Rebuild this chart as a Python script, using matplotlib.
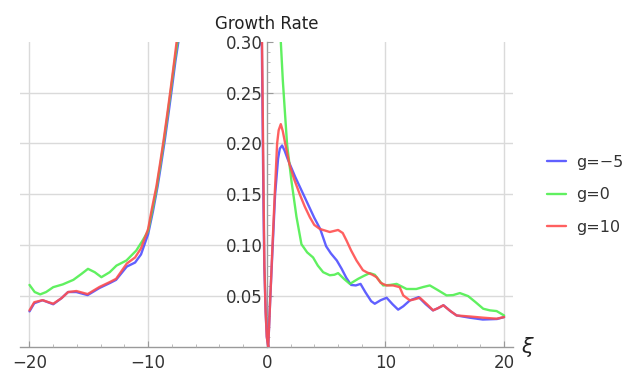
"""
Growth rate vs xi for three values of g (Mathematica-style axes through the origin).
"""

import matplotlib
matplotlib.use("Agg")
import matplotlib.pyplot as plt
from matplotlib.ticker import FormatStrFormatter, MultipleLocator

# ---------------------------------------------------------------------------
# Data
# ---------------------------------------------------------------------------

# left branch, xi < 0
xi_left_blue = [-20.0, -19.6, -18.9, -18.0, -17.3, -16.75, -16.05, -15.1, -14.1, -13.2,
                -12.7, -11.8, -11.1, -10.6, -10.0, -9.6, -9.2, -8.9, -8.6, -8.3,
                -8.0, -7.7, -7.45, -7.3]
gr_left_blue = [0.035, 0.043, 0.046, 0.042, 0.048, 0.054, 0.054, 0.051, 0.058, 0.063,
                0.066, 0.079, 0.083, 0.091, 0.111, 0.133, 0.158, 0.180, 0.203, 0.228,
                0.254, 0.281, 0.300, 0.320]

xi_left_green = [-20.0, -19.56, -19.1, -18.6, -18.0, -17.2, -16.3, -15.6, -15.07, -14.5,
                 -13.94, -13.24, -12.67, -11.83, -11.0, -10.5, -10.0, -9.65, -9.3, -9.0,
                 -8.7, -8.4, -8.1, -7.8, -7.5, -7.35]
gr_left_green = [0.061, 0.054, 0.0517, 0.054, 0.0588, 0.0615, 0.066, 0.072, 0.0768, 0.0735,
                 0.0686, 0.0735, 0.080, 0.085, 0.0948, 0.104, 0.114, 0.134, 0.155, 0.177,
                 0.200, 0.225, 0.251, 0.278, 0.302, 0.320]

xi_left_red = [-20.0, -19.6, -18.9, -18.0, -17.3, -16.75, -16.05, -15.1, -14.1, -13.2,
               -12.7, -11.8, -11.1, -10.6, -10.0, -9.7, -9.3, -9.0, -8.7, -8.4,
               -8.1, -7.8, -7.6, -7.4]
gr_left_red = [0.036, 0.044, 0.046, 0.0425, 0.048, 0.054, 0.055, 0.052, 0.059, 0.064,
               0.067, 0.082, 0.088, 0.097, 0.116, 0.135, 0.158, 0.180, 0.203, 0.228,
               0.254, 0.281, 0.300, 0.320]

# right branch, around 0 and xi > 0
xi_right_blue = [-0.47, -0.42, -0.35, -0.28, -0.21, -0.1, 0.0, 0.12, 0.3, 0.5,
                 0.7, 0.95, 1.1, 1.29, 1.5, 1.75, 2.0, 2.4, 2.8, 3.2,
                 3.6, 4.0, 4.5, 5.0, 5.4, 5.9, 6.3, 6.7, 7.1, 7.5,
                 7.9, 8.3, 8.8, 9.1, 9.6, 10.1, 10.6, 11.07, 11.5, 12.06,
                 12.8, 13.4, 14.0, 14.4, 14.9, 15.5, 16.0, 17.1, 18.2, 19.4, 20.0]
gr_right_blue = [0.34, 0.30, 0.22, 0.14, 0.08, 0.035, 0.01, 0.0, 0.05, 0.10,
                 0.15, 0.185, 0.195, 0.198, 0.193, 0.185, 0.178, 0.167, 0.157, 0.147,
                 0.137, 0.127, 0.116, 0.099, 0.092, 0.085, 0.077, 0.068, 0.061, 0.0605,
                 0.062, 0.054, 0.045, 0.0425, 0.046, 0.0484, 0.042, 0.0367, 0.040, 0.0458,
                 0.049, 0.042, 0.036, 0.038, 0.041, 0.035, 0.031, 0.0288, 0.027, 0.0275, 0.0294]

xi_right_green = [1.12, 1.18, 1.35, 1.52, 1.71, 2.08, 2.5, 2.92, 3.4, 3.9,
                  4.3, 4.75, 5.31, 5.7, 6.01, 6.5, 7.0, 7.7, 8.2, 8.68,
                  9.1, 9.81, 10.4, 10.94, 11.78, 12.6, 13.2, 13.74, 14.4, 15.15,
                  15.7, 16.27, 16.97, 17.6, 18.24, 18.8, 19.37, 20.0]
gr_right_green = [0.34, 0.30, 0.262, 0.232, 0.199, 0.163, 0.128, 0.101, 0.093, 0.088,
                  0.080, 0.0735, 0.0705, 0.071, 0.0726, 0.067, 0.062, 0.067, 0.070, 0.0726,
                  0.071, 0.0605, 0.061, 0.062, 0.057, 0.057, 0.059, 0.0605, 0.056, 0.0507,
                  0.051, 0.053, 0.050, 0.044, 0.0376, 0.036, 0.0353, 0.031]

xi_right_red = [-0.45, -0.4, -0.33, -0.26, -0.2, -0.1, 0.0, 0.12, 0.3, 0.48,
                0.67, 0.87, 1.0, 1.18, 1.35, 1.6, 1.9, 2.3, 2.78, 3.2,
                3.63, 4.0, 4.47, 5.31, 6.01, 6.4, 6.72, 7.1, 7.56, 8.1,
                8.41, 8.9, 9.25, 9.6, 10.09, 10.65, 11.2, 11.5, 12.06, 12.5,
                12.9, 13.5, 14.02, 14.4, 14.87, 15.4, 15.99, 17.1, 18.24, 19.37, 20.0]
gr_right_red = [0.34, 0.30, 0.22, 0.14, 0.08, 0.035, 0.01, 0.0, 0.05, 0.10,
                0.15, 0.20, 0.213, 0.219, 0.212, 0.197, 0.180, 0.165, 0.150, 0.138,
                0.1275, 0.120, 0.116, 0.113, 0.115, 0.112, 0.1046, 0.095, 0.085, 0.0755,
                0.0735, 0.071, 0.0686, 0.063, 0.0605, 0.0605, 0.0588, 0.0507, 0.0458, 0.047,
                0.0484, 0.042, 0.036, 0.038, 0.041, 0.036, 0.031, 0.030, 0.0288, 0.0278, 0.0294]

labels = ["g=\u22125", "g=0", "g=10"]
colors = ["#4f4fff", "#4fef4f", "#ff4f4f"]

x_ticks = [-20, -10, 0, 10, 20]
y_ticks = [0.05, 0.10, 0.15, 0.20, 0.25, 0.30]

# ---------------------------------------------------------------------------
# Figure
# ---------------------------------------------------------------------------

W, H = 628, 372
fig = plt.figure(figsize=(W / 100, H / 100), dpi=100)
plt.rcParams["font.family"] = ["DejaVu Sans"]

ax = fig.add_axes([20 / W, 25 / H, 493 / W, 305.3 / H])
ax.set_xlim(-20.8, 20.75)
ax.set_ylim(0, 0.30)

# grid (Mathematica style: no line on the axes themselves)
grid_col = "#dadada"
for xv in x_ticks:
    if xv != 0:
        ax.axvline(xv, color=grid_col, lw=1.0, zorder=0)
for yv in y_ticks[:-1]:
    ax.axhline(yv, color=grid_col, lw=1.0, zorder=0)

branches = [
    (xi_left_blue, gr_left_blue, xi_right_blue, gr_right_blue),
    (xi_left_green, gr_left_green, xi_right_green, gr_right_green),
    (xi_left_red, gr_left_red, xi_right_red, gr_right_red),
]
handles = []
for (xl, yl, xr, yr), col, lab in zip(branches, colors, labels):
    ax.plot(xl, yl, color=col, lw=1.7, alpha=0.9, solid_capstyle="round")
    h, = ax.plot(xr, yr, color=col, lw=1.7, alpha=0.9, solid_capstyle="round", label=lab)
    handles.append(h)

# axes through the origin
for side in ("top", "right"):
    ax.spines[side].set_visible(False)
ax.spines["left"].set_position(("data", 0))
ax.spines["bottom"].set_position(("data", 0))
for side in ("left", "bottom"):
    ax.spines[side].set_color("#9a9a9a")
    ax.spines[side].set_linewidth(1.0)
    ax.spines[side].set_zorder(1)

ax.set_xticks(x_ticks)
ax.set_yticks(y_ticks)
ax.xaxis.set_minor_locator(MultipleLocator(2))
ax.yaxis.set_minor_locator(MultipleLocator(0.01))
ax.yaxis.set_major_formatter(FormatStrFormatter("%.2f"))
ax.tick_params(axis="both", which="major", direction="in", length=4, width=0.8,
               color="#9a9a9a", labelsize=12, labelcolor="#333333")
ax.tick_params(axis="both", which="minor", direction="in", length=2, width=0.6,
               color="#b0b0b0")
ax.tick_params(axis="x", which="major", pad=5)
ax.tick_params(axis="y", which="major", pad=3)

# axis labels
ax.annotate("Growth Rate", xy=(0, 1), xycoords=("data", "axes fraction"),
            xytext=(0, 9), textcoords="offset points", ha="center", va="baseline",
            fontsize=12, color="#222222")
ax.annotate("\u03be", xy=(1, 0), xycoords="axes fraction", xytext=(10, 0),
            textcoords="offset points", ha="center", va="center",
            fontsize=15, style="italic", color="#222222")

fig.legend(handles=handles, labels=labels, loc="upper left",
           bbox_to_anchor=(547 / W, 1 - 155 / H), frameon=False, fontsize=11.5,
           handlelength=1.2, handletextpad=0.6, labelspacing=1.08,
           borderpad=0, borderaxespad=0, labelcolor="#333333")

fig.savefig("out.png", dpi=100)
